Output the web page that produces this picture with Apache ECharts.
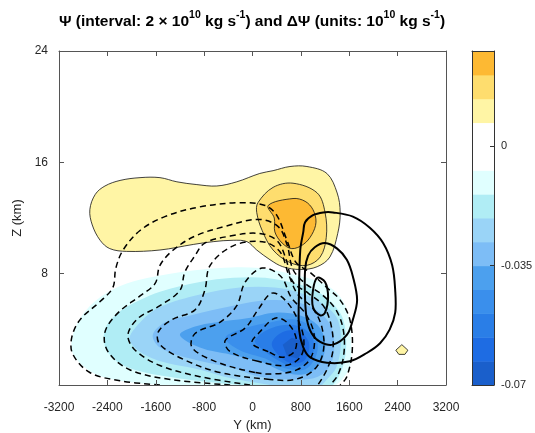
<!DOCTYPE html>
<html>
<head>
<meta charset="utf-8">
<script src="https://cdn.jsdelivr.net/npm/echarts@6/dist/echarts.min.js"></script>
<style>
    html, body {margin: 0; padding: 0; background: #fff;}
    #chart {width: 535px; height: 433px;}
</style>
</head>
<body>
<div id="chart"></div>
<script>
const FONT = '"Liberation Sans", Arial, sans-serif';

// colour scale of ΔΨ (band edges and band colours, bottom to top)
const dpsiLevels = [-0.07, -0.063, -0.056, -0.049, -0.042, -0.035, -0.028, -0.021, -0.014, -0.007, 0, 0.007, 0.014, 0.021, 0.028];
const dpsiColors = ['#1a5fcb', '#1e6ce3', '#2a7ee7', '#3a8fec', '#4ca0ee', '#7dbdf6', '#9ad4f7', '#b0edf5',
    '#e0ffff', '#ffffff', '#ffffff', '#fff5a5', '#fedd6e', '#fdb933'];
const cbTickValues = [-0.07, -0.035, 0];

// ΔΨ filled contours, [Y km, Z km], outer level first
const blueLevels = [-0.007, -0.014, -0.021, -0.028, -0.035, -0.042, -0.049, -0.056, -0.063];
const blueShapes = [
    [[-1530, 0], [-2190, 0.3], [-2650, 0.9], [-2950, 2.1], [-2990, 3.2], [-2850, 4.8], [-2520, 6.3], [-2080, 7.3], [-1360, 8.0], [-540, 8.4], [120, 8.4], [700, 7.9], [1120, 7.4], [1400, 6.6], [1560, 5.4], [1630, 3.2], [1610, 1.3], [1480, 0.4], [1380, 0]],
    [[-210, 0], [-1250, 0.5], [-2080, 1.3], [-2410, 2.5], [-2440, 4.0], [-2220, 5.2], [-1860, 6.1], [-1530, 6.7], [-870, 7.4], [-320, 7.7], [210, 7.7], [790, 7.2], [1120, 6.6], [1360, 5.7], [1500, 4.7], [1550, 2.9], [1500, 1.4], [1400, 0.4], [1330, 0]],
    [[290, 0], [-370, 0.5], [-870, 1.1], [-1650, 1.9], [-2030, 3.2], [-1860, 4.5], [-1530, 5.6], [-870, 6.5], [-210, 7.0], [370, 7.0], [870, 6.5], [1200, 5.7], [1410, 4.7], [1460, 2.9], [1380, 1.2], [1230, 0.4], [1150, 0]],
    [[790, 0.4], [120, 0.6], [-320, 1.2], [-1030, 1.9], [-1530, 2.7], [-1650, 3.6], [-1450, 4.5], [-1030, 5.0], [-320, 5.7], [290, 6.1], [790, 5.9], [1120, 5.2], [1310, 4.1], [1350, 2.5], [1270, 1.3], [1080, 0.6]],
    [[-1200, 3.6], [-950, 4.2], [-620, 4.5], [-90, 4.8], [370, 5.2], [790, 5.0], [1080, 4.3], [1200, 3.1], [1150, 1.8], [950, 0.9], [620, 0.8], [120, 1.7], [-370, 2.2], [-870, 2.7]],
    [[-450, 3.4], [-120, 4.1], [290, 4.5], [700, 4.7], [980, 4.1], [1080, 2.9], [1020, 1.8], [850, 1.1], [540, 1.2], [210, 1.9], [-210, 2.5]],
    [[40, 3.2], [320, 4.1], [700, 4.3], [950, 3.7], [1020, 2.7], [920, 1.7], [700, 1.3], [450, 1.7], [210, 2.4]],
    [[320, 3.0], [500, 3.8], [750, 3.9], [920, 3.2], [930, 2.4], [840, 1.7], [620, 1.6], [420, 2.2]],
    [[500, 2.9], [650, 3.4], [840, 3.1], [850, 2.4], [740, 1.9], [570, 2.1]]
];
const yellowLevels = [0.007, 0.014, 0.021, 0.007];
const yellowShapes = [
    [[-2690, 12.6], [-2600, 13.7], [-2440, 14.3], [-2190, 14.7], [-1860, 14.9], [-1530, 14.9], [-1250, 14.6], [-920, 14.4], [-590, 14.3], [-260, 14.6], [120, 15.2], [340, 15.4], [620, 15.7], [900, 15.7], [1230, 15.2], [1400, 13.8], [1450, 12.4], [1410, 10.9], [1280, 9.2], [1070, 8.5], [790, 8.3], [500, 8.5], [290, 9.0], [70, 9.7], [-90, 10.3], [-320, 10.4], [-650, 10.3], [-980, 10.1], [-1530, 9.7], [-2080, 9.6], [-2360, 9.8], [-2520, 10.4], [-2650, 11.5]],
    [[90, 13.1], [340, 14.2], [670, 14.5], [1070, 13.8], [1200, 12.4], [1220, 10.6], [1120, 9.2], [900, 8.6], [620, 8.8], [340, 9.7], [160, 11.1], [70, 12.4]],
    [[670, 13.4], [870, 13.2], [1000, 12.6], [1050, 11.7], [980, 10.8], [840, 10.1], [650, 9.8], [490, 10.2], [370, 11.0], [360, 12.0], [260, 12.9]],
    [[2370, 2.5], [2470, 2.9], [2570, 2.5], [2520, 2.2], [2420, 2.2]]
];

// Ψ line contours: negative (dashed) and positive (solid)
const psiNeg = [
    [[-1530, 0], [-2190, 0.3], [-2690, 0.9], [-2970, 2.2], [-2990, 3.4], [-2850, 4.7], [-2520, 6.0], [-2310, 7.0], [-2260, 8.4], [-2140, 9.7], [-1860, 11.1], [-1450, 12.1], [-870, 12.8], [-210, 13.1], [210, 12.9], [400, 12.2], [570, 10.4], [720, 8.8], [950, 8.1], [1230, 7.0], [1450, 6.1], [1610, 4.7], [1650, 2.5], [1560, 0.6], [1450, 0]],
    [[-370, 0], [-1360, 0.4], [-2030, 1.1], [-2390, 2.4], [-2440, 3.8], [-2220, 5.2], [-1860, 6.4], [-1610, 7.3], [-1530, 8.6], [-1310, 9.7], [-950, 10.7], [-450, 11.4], [90, 11.9], [420, 11.4], [570, 10.1], [670, 8.3], [870, 7.3], [1150, 6.5], [1380, 5.4], [1500, 4.0], [1510, 2.2], [1410, 0.7], [1280, 0]],
    [[-40, 0], [-870, 0.6], [-1530, 1.4], [-1940, 2.5], [-2060, 3.6], [-1890, 4.8], [-1530, 5.7], [-1200, 6.8], [-1120, 8.1], [-950, 9.3], [-790, 10.2], [-370, 10.7], [90, 10.9], [400, 10.4], [550, 9.1], [670, 7.4], [920, 6.6], [1170, 5.7], [1300, 4.3], [1330, 2.5], [1230, 1.1], [1080, 0]],
    [[290, 0.4], [-540, 0.9], [-1120, 1.8], [-1530, 2.9], [-1560, 3.8], [-1330, 4.7], [-950, 5.4], [-790, 6.8], [-700, 8.6], [-320, 10.0], [160, 10.3], [450, 9.6], [600, 7.9], [750, 6.5], [1000, 5.5], [1150, 4.1], [1170, 2.4], [1020, 1.1], [700, 0.4]],
    [[40, 0.9], [-620, 1.7], [-1000, 2.7], [-950, 3.7], [-540, 4.5], [-260, 5.7], [-120, 7.4], [160, 8.4], [470, 7.8], [640, 6.3], [880, 5.1], [1020, 3.6], [970, 2.0], [740, 1.1], [370, 0.8]],
    [[90, 1.7], [-370, 2.4], [-450, 3.2], [-120, 4.1], [90, 5.4], [320, 6.6], [540, 6.1], [750, 4.7], [850, 3.2], [790, 2.0], [540, 1.4]],
    [[260, 2.4], [-10, 3.0], [120, 3.8], [370, 4.8], [570, 4.5], [720, 3.4], [690, 2.4], [490, 2.0]]
];
const psiPos = [
    [[840, 11.0], [870, 11.7], [1000, 12.2], [1170, 12.4], [1330, 12.4], [1660, 12.1], [1940, 11.3], [2160, 10.2], [2310, 8.6], [2360, 6.8], [2360, 5.2], [2270, 4.0], [2110, 3.0], [1890, 2.3], [1610, 1.7], [1230, 1.6], [950, 2.0], [840, 2.7], [770, 4.0], [770, 6.8], [790, 9.7]],
    [[870, 8.3], [920, 9.3], [1030, 9.9], [1200, 10.2], [1400, 9.8], [1560, 9.0], [1660, 7.8], [1730, 6.1], [1660, 4.7], [1560, 3.6], [1330, 2.9], [1120, 3.1], [980, 3.7], [900, 4.7], [870, 6.1]],
    [[1070, 7.7], [1200, 7.4], [1250, 6.3], [1200, 5.2], [1120, 5.0], [1000, 5.6], [1000, 6.8]]
];

// colour of the region beyond a contour level
const fillColor = (level) => {
    const i = dpsiLevels.findIndex(l => Math.abs(l - level) < 1e-9);
    return level < 0 ? dpsiColors[i - 1] : dpsiColors[i];
};

const isOpen = (pts) => pts[0][1] === 0 && pts[pts.length - 1][1] === 0;

// one custom series drawing a list of contour paths on the main grid
const contourSeries = (shapes, styleFor) => ({
    type: 'custom',
    xAxisIndex: 0,
    yAxisIndex: 0,
    clip: true,
    silent: true,
    z: 2,
    data: shapes.map(s => [s[0][0], s[0][1]]),
    encode: {x: 0, y: 1},
    renderItem: (params, api) => {
        const pts = shapes[params.dataIndex];
        return {
            type: isOpen(pts) ? 'polyline' : 'polygon',
            shape: {points: pts.map(p => api.coord(p)), smooth: pts.length > 6 ? 0.35 : 0},
            style: styleFor(params.dataIndex)
        };
    }
});

const axisColor = '#555';
const cbColor = '#333';
const textColor = '#262626';
const boxAxis = (extra) => Object.assign({
    z: 5,
    splitLine: {show: false},
    axisLine: {show: true, onZero: false, lineStyle: {color: axisColor, width: 1}},
    axisTick: {show: true, inside: true, length: 5, lineStyle: {color: axisColor}},
    axisLabel: {show: false}
}, extra);
const cbLine = {show: true, onZero: false, lineStyle: {color: cbColor, width: 1}};

const chart = echarts.init(document.getElementById('chart'), null, {renderer: 'canvas'});

chart.setOption({
    animation: false,
    backgroundColor: '#fff',
    textStyle: {fontFamily: FONT},
    grid: [
        {left: 59, top: 51, width: 387, height: 334, outerBoundsMode: 'none', containLabel: false},
        {left: 472, top: 51, width: 22, height: 334, outerBoundsMode: 'none', containLabel: false}
    ],
    graphic: [{
        type: 'text',
        x: 252,
        y: 20,
        style: {
            text: '{b|Ψ (interval: 2 × 10}{s|10}{b| kg s}{s|-1}{b|) and ΔΨ (units: 10}{s|10}{b| kg s}{s|-1}{b|)}',
            align: 'center',
            verticalAlign: 'middle',
            fill: '#000',
            rich: {
                b: {fontSize: 15.5, fontWeight: 'bold', fontFamily: FONT, fill: '#000', lineHeight: 20, verticalAlign: 'bottom'},
                s: {fontSize: 10.5, fontWeight: 'bold', fontFamily: FONT, fill: '#000', lineHeight: 12, verticalAlign: 'top'}
            }
        }
    }],
    xAxis: [
        boxAxis({
            gridIndex: 0, type: 'value', position: 'bottom', min: -3200, max: 3200, interval: 800,
            axisLabel: {show: true, color: textColor, fontSize: 12, margin: 17, fontFamily: FONT, formatter: v => String(v)},
            name: 'Y (km)', nameLocation: 'middle', nameGap: 34,
            nameTextStyle: {color: textColor, fontSize: 13, fontFamily: FONT}
        }),
        boxAxis({gridIndex: 0, type: 'value', position: 'top', min: -3200, max: 3200, interval: 800}),
        boxAxis({gridIndex: 1, type: 'value', position: 'bottom', min: 0, max: 1, axisTick: {show: false}, axisLine: cbLine}),
        boxAxis({gridIndex: 1, type: 'value', position: 'top', min: 0, max: 1, axisTick: {show: false}, axisLine: cbLine})
    ],
    yAxis: [
        boxAxis({
            gridIndex: 0, type: 'value', position: 'left', min: 0, max: 24, interval: 8,
            axisLabel: {show: true, showMinLabel: false, color: textColor, fontSize: 12, margin: 11, fontFamily: FONT},
            name: 'Z (km)', nameLocation: 'middle', nameGap: 27,
            nameTextStyle: {color: textColor, fontSize: 13, fontFamily: FONT}
        }),
        boxAxis({gridIndex: 0, type: 'value', position: 'right', min: 0, max: 24, interval: 8}),
        boxAxis({
            gridIndex: 1, type: 'value', position: 'right', min: -0.07, max: 0.028,
            axisLine: cbLine,
            axisTick: {show: true, inside: true, length: 4, customValues: cbTickValues, lineStyle: {color: cbColor}},
            axisLabel: {show: true, customValues: cbTickValues, color: textColor, fontSize: 11, margin: 7,
                fontFamily: FONT, formatter: v => String(v)}
        }),
        boxAxis({gridIndex: 1, type: 'value', position: 'left', min: -0.07, max: 0.028, axisTick: {show: false}, axisLine: cbLine})
    ],
    series: [
        contourSeries(blueShapes, i => ({fill: fillColor(blueLevels[i]), stroke: 'none'})),
        contourSeries(yellowShapes, i => ({fill: fillColor(yellowLevels[i]), stroke: '#111', lineWidth: 0.8})),
        contourSeries(psiNeg, () => ({fill: 'none', stroke: '#000', lineWidth: 1.5, lineDash: [6, 4]})),
        contourSeries(psiPos, () => ({fill: 'none', stroke: '#000', lineWidth: 2})),
        {
            // colour bar
            type: 'custom',
            xAxisIndex: 2,
            yAxisIndex: 2,
            silent: true,
            z: 2,
            data: dpsiColors.map((c, i) => [0, dpsiLevels[i], dpsiLevels[i + 1]]),
            encode: {x: 0, y: [1, 2]},
            renderItem: (params, api) => {
                const top = api.coord([0, api.value(2)]);
                const bottom = api.coord([1, api.value(1)]);
                return {
                    type: 'rect',
                    shape: {x: top[0], y: top[1], width: bottom[0] - top[0], height: bottom[1] - top[1] + 0.5},
                    style: {fill: dpsiColors[params.dataIndex]}
                };
            }
        }
    ]
});
</script>
</body>
</html>
